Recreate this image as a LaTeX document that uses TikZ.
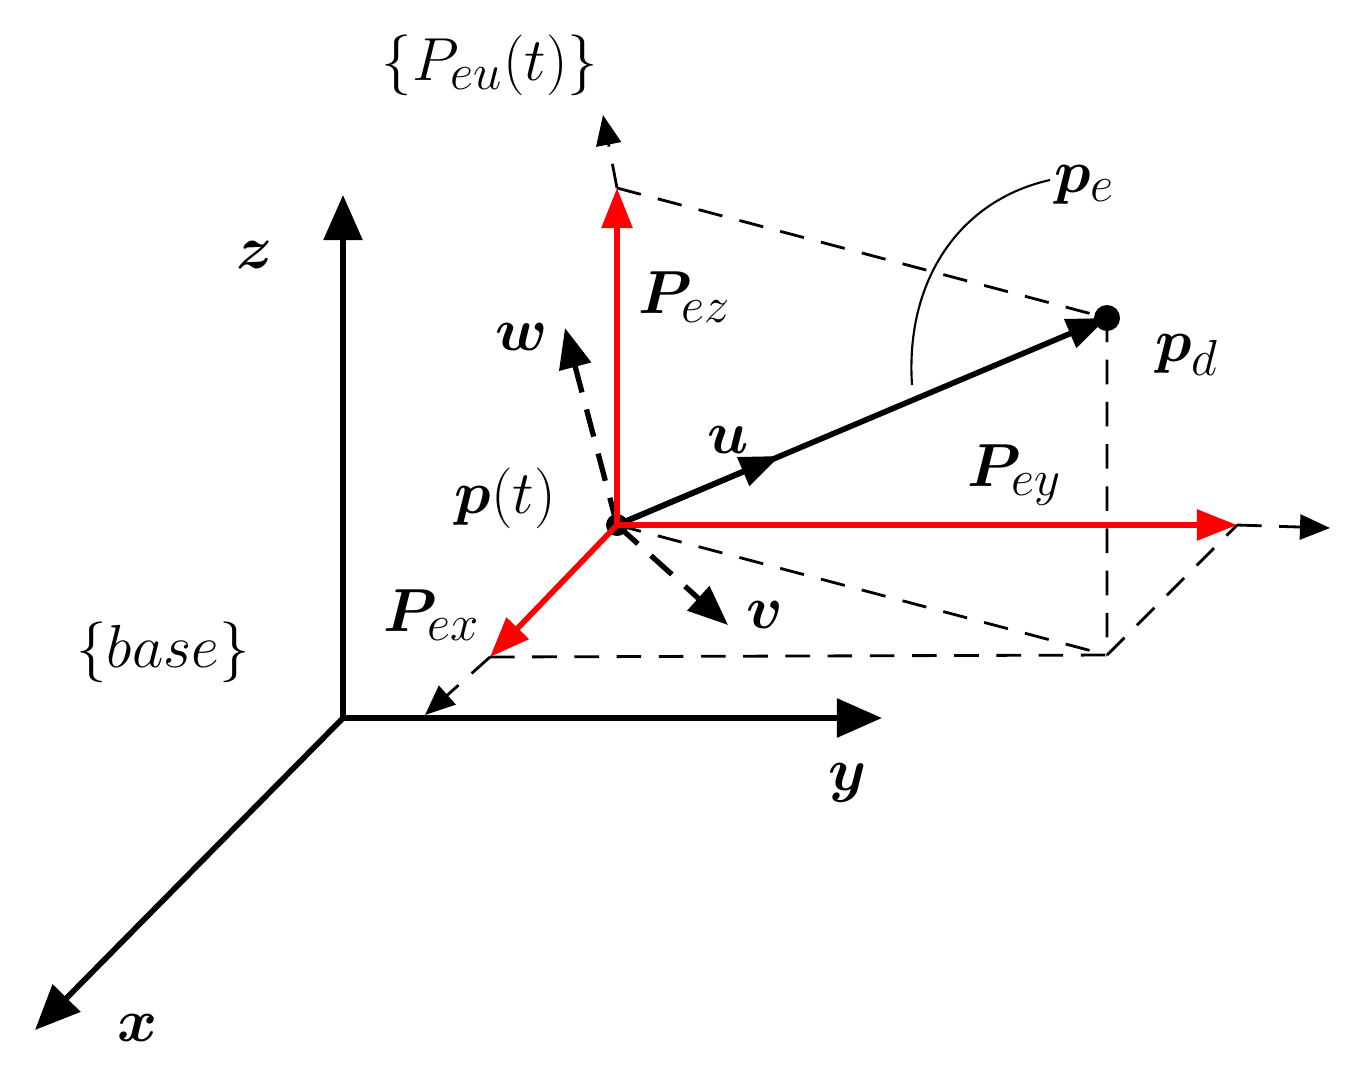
\documentclass[tikz,border=0pt]{standalone}
\usepackage{amsmath,bm}
\usetikzlibrary{arrows.meta,decorations.markings}
\begin{document}
\begin{tikzpicture}[x=0.01cm,y=-0.01cm,
 lbl/.style={font=\fontsize{19}{22}\selectfont,inner sep=0pt},
 ax/.style={line width=1.6pt,-{Triangle[length=0.45cm,width=0.38cm]}},
 rd/.style={red,line width=1.6pt,-{Triangle[length=0.4cm,width=0.3cm]}},
 ds/.style={dashed,line width=0.8pt,dash pattern=on 7pt off 5pt},
 dsa/.style={ds,-{Triangle[length=0.3cm,width=0.25cm]}},
 dsb/.style={dashed,line width=1.5pt,dash pattern=on 8pt off 5pt,-{Triangle[length=0.4cm,width=0.32cm]}}]
\useasboundingbox (0,0) rectangle (1349,1081);
\coordinate (O) at (343,718);
\coordinate (Z) at (343,195);
\coordinate (Y) at (882,718);
\coordinate (X) at (35,1030);
\coordinate (P) at (617,525);
\coordinate (D) at (1107,318);
\coordinate (RZ) at (617,188);
\coordinate (RY) at (1237,525);
\coordinate (RX) at (490,657);
\coordinate (F) at (1107,655);
\coordinate (DZ) at (603,115);
\coordinate (DY) at (1330,528);
\coordinate (DX) at (425,715);
\coordinate (W) at (565,328);
\coordinate (V) at (728,625);
\coordinate (C1) at (912,385);
\coordinate (C2) at (1050,180);
\draw[ax] (O) -- (Z);
\draw[ax] (O) -- (Y);
\draw[ax] (O) -- (X);
\draw[ds] (RZ) -- (D) -- (F) -- (RY);
\draw[ds] (RX) -- (F);
\draw[ds] (P) -- (F);
\draw[dsa] (RZ) -- (DZ);
\draw[dsa] (RY) -- (DY);
\draw[dsa] (RX) -- (DX);
\draw[dsb] (P) -- (W);
\draw[dsb] (P) -- (V);
\draw[line width=1.6pt,-{Triangle[length=0.4cm,width=0.3cm]}] (P) -- (D);
\draw[line width=1.6pt,-{Triangle[length=0.4cm,width=0.3cm]}] (P) -- (780,456);
\fill (D) circle (13);
\fill (P) circle (11);
\draw[rd] (P) -- (RZ);
\draw[rd] (P) -- (RY);
\draw[rd] (P) -- (RX);
\draw[line width=0.6pt] (C1) .. controls (905,280) and (960,200) .. (C2);
\node[lbl] (lz) at (255,255) {$\bm{z}$};
\node[lbl] (ly) at (848,783) {$\bm{y}$};
\node[lbl] (lx) at (138,1028) {$\bm{x}$};
\node[lbl] (lb) at (163,652) {$\{base\}$};
\node[lbl] (lpeu) at (490,65) {$\{P_{eu}(t)\}$};
\node[lbl] (lpez) at (685,297) {$\bm{P}_{ez}$};
\node[lbl] (lw) at (522,337) {$\bm{w}$};
\node[lbl] (lu) at (728,440) {$\bm{u}$};
\node[lbl] (lp) at (505,498) {$\bm{p}(t)$};
\node[lbl] (lpey) at (1015,475) {$\bm{P}_{ey}$};
\node[lbl] (lpex) at (432,615) {$\bm{P}_{ex}$};
\node[lbl] (lv) at (765,615) {$\bm{v}$};
\node[lbl] (lpe) at (1085,185) {$\bm{p}_e$};
\node[lbl] (lpd) at (1187,355) {$\bm{p}_d$};
\end{tikzpicture}
\end{document}
